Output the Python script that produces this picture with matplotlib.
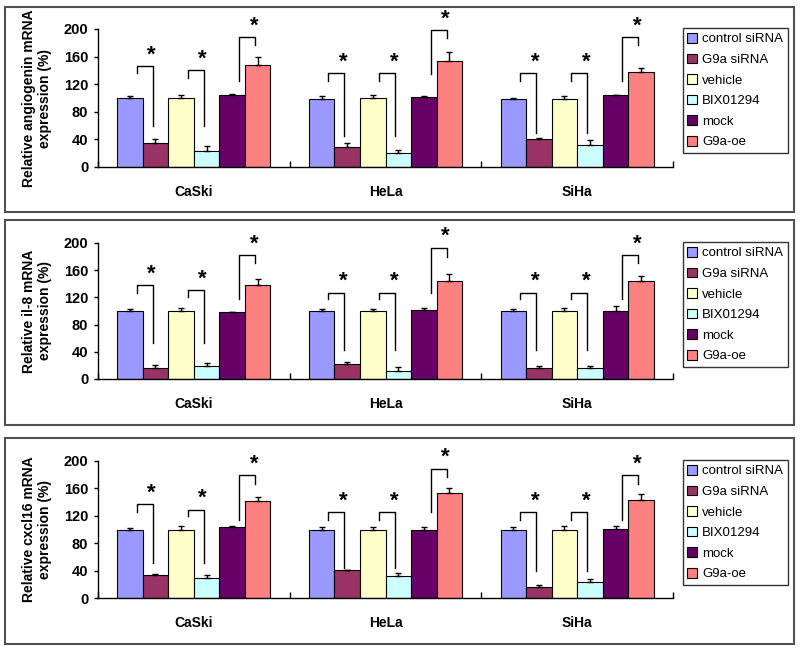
import numpy as np
import matplotlib
matplotlib.use('Agg')
import matplotlib.pyplot as plt
from matplotlib.patches import Rectangle

plt.rcParams['font.family'] = ['Liberation Sans', 'DejaVu Sans']

groups = ['CaSki', 'HeLa', 'SiHa']
series = ['control siRNA', 'G9a siRNA', 'vehicle', 'BIX01294', 'mock', 'G9a-oe']
colors = ['#9999FF', '#993366', '#FFFFCC', '#CCFFFF', '#660066', '#FF8080']

# rows: CaSki, HeLa, SiHa ; columns: series
angiogenin_mean = [[100, 35, 100, 23, 105, 148],
                   [99, 29, 100, 20, 102, 154],
                   [99, 41, 99, 32, 104, 137]]
angiogenin_err = [[3, 5, 4, 7, 1, 11],
                  [4, 6, 4, 4, 1, 12],
                  [1, 1, 4, 7, 1, 6]]

il8_mean = [[100, 16, 100, 19, 98, 138],
            [100, 22, 100, 12, 102, 144],
            [100, 16, 100, 16, 100, 144]]
il8_err = [[3, 4, 4, 5, 1, 9],
           [3, 3, 3, 6, 3, 11],
           [3, 3, 5, 3, 7, 7]]

cxcl16_mean = [[100, 34, 100, 29, 103, 141],
               [100, 41, 100, 32, 99, 154],
               [100, 16, 100, 24, 101, 143]]
cxcl16_err = [[1.5, 1.5, 5, 5, 1.5, 7],
              [4, 0, 3, 5, 5, 7],
              [3, 3, 5, 4, 3.5, 9.5]]

# significance brackets: (group, left bar, right bar, top, left leg end, right leg end)
angiogenin_sig = [(0, 0, 1, 146, 136, 59), (0, 2, 3, 140, 129, 59), (0, 4, 5, 188, 125, 177),
                  (1, 0, 1, 136, 125, 45), (1, 2, 3, 136, 125, 45), (1, 4, 5, 198, 135, 187),
                  (2, 0, 1, 136, 125, 50), (2, 2, 3, 136, 125, 50), (2, 4, 5, 188, 125, 177)]
il8_sig = [(0, 0, 1, 138, 126, 53), (0, 2, 3, 131, 121, 53), (0, 4, 5, 182, 117, 171),
           (1, 0, 1, 127, 117, 42), (1, 2, 3, 127, 117, 42), (1, 4, 5, 193, 126, 180),
           (2, 0, 1, 127, 117, 42), (2, 2, 3, 127, 117, 42), (2, 4, 5, 182, 117, 171)]
cxcl16_sig = [(0, 0, 1, 137, 125, 51), (0, 2, 3, 129, 119, 51), (0, 4, 5, 179, 114, 167),
              (1, 0, 1, 125, 114, 44), (1, 2, 3, 125, 114, 44), (1, 4, 5, 189, 125, 177),
              (2, 0, 1, 125, 114, 40), (2, 2, 3, 125, 114, 40), (2, 4, 5, 179, 114, 167)]

panels = [
    ('Relative angiogenin mRNA\nexpression (%)', angiogenin_mean, angiogenin_err, angiogenin_sig),
    ('Relative il-8 mRNA\nexpression (%)', il8_mean, il8_err, il8_sig),
    ('Relative cxcl16 mRNA\nexpression (%)', cxcl16_mean, cxcl16_err, cxcl16_sig),
]

W, H = 800, 651
fig = plt.figure(figsize=(W / 100, H / 100), dpi=100)

# pixel layout: (panel box top, bottom), (axes top, bottom)
boxes = [(7, 212), (220, 425), (438, 644)]
axes_y = [(29, 167), (243, 379), (461, 598)]
ax_left, ax_right = 98, 673

width = 0.8 / len(series)
x = np.arange(len(groups))

for (ylabel, mean, err, sig), (bt, bb), (at, ab) in zip(panels, boxes, axes_y):
    fig.patches.append(Rectangle((5 / W, 1 - bb / H), 789 / W, (bb - bt) / H,
                                 transform=fig.transFigure, fill=False,
                                 edgecolor='#505050', linewidth=1.5))
    ax = fig.add_axes([ax_left / W, 1 - ab / H, (ax_right - ax_left) / W, (ab - at) / H])
    mean = np.array(mean)
    err = np.array(err)
    for i, name in enumerate(series):
        xs = x + (i - 2.5) * width
        ax.bar(xs, mean[:, i], width, color=colors[i], edgecolor='black',
               linewidth=0.8, label=name, zorder=2)
        ax.errorbar(xs, mean[:, i], yerr=[np.zeros(len(groups)), err[:, i]],
                    fmt='none', ecolor='black', elinewidth=1, capsize=2.5,
                    capthick=1, zorder=3)
    for g, a, b, top, lb, rb in sig:
        xa = g + (a - 2.5) * width + 0.035
        xb = g + (b - 2.5) * width - 0.015
        ax.plot([xa, xa, xb, xb], [lb, top, top, rb], color='black',
                linewidth=1, clip_on=False, zorder=4)
        ax.text(xb - 0.005, top + 1, '*', ha='center', va='bottom',
                fontsize=16, fontweight='bold', clip_on=False)

    ax.set_xlim(-0.5, 2.5)
    ax.set_ylim(0, 200)
    ax.set_yticks([0, 40, 80, 120, 160, 200])
    ax.set_xticks(x)
    ax.set_xticklabels(groups, fontweight='bold', fontsize=10)
    ax.set_xticks([-0.5, 0.5, 1.5, 2.5], minor=True)
    ax.tick_params(axis='x', which='major', length=0, pad=13)
    ax.tick_params(axis='x', which='minor', direction='in', length=4, width=1)
    ax.tick_params(axis='y', direction='out', length=3, width=1, labelsize=10.5, pad=4)
    for lab in ax.get_yticklabels():
        lab.set_fontweight('bold')
    ax.spines['top'].set_visible(False)
    ax.spines['right'].set_visible(False)
    ax.spines['left'].set_linewidth(1)
    ax.spines['bottom'].set_linewidth(1)
    ax.set_ylabel(ylabel, fontweight='bold', fontsize=10, linespacing=1.15)
    ax.yaxis.set_label_coords(-0.08, 0.5)

    leg = ax.legend(loc='upper left', bbox_to_anchor=(1.017, 1.005), borderaxespad=0,
                    fontsize=9.5, frameon=True, fancybox=False, handlelength=0.75,
                    handleheight=0.75, handletextpad=0.35, labelspacing=0.62,
                    borderpad=0.35)
    leg.get_frame().set_edgecolor('black')
    leg.get_frame().set_linewidth(1)

fig.savefig('out.png', dpi=100)
